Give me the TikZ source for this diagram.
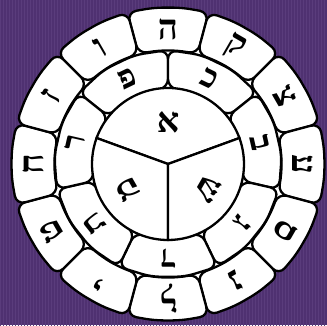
\documentclass[tikz,border=0pt]{standalone}
\usepackage{fontspec}
\newfontfamily\hebfont[Script=Hebrew]{Liberation Serif}
\usetikzlibrary{patterns}
\definecolor{bgpurple}{RGB}{79,49,113}
\definecolor{bgstripe}{RGB}{90,60,124}
\newcommand{\ringcell}[4]{%
  \draw[cellbox] (#1:#3) -- (#1:#4) -- ({#1+(#2-#1)/3}:#4) -- ({#1+2*(#2-#1)/3}:#4)
    -- (#2:#4) -- (#2:#3) -- ({#1+2*(#2-#1)/3}:#3) -- ({#1+(#2-#1)/3}:#3) -- cycle;}

\begin{document}
\begin{tikzpicture}[
  x=1pt,y=1pt,
  cellbox/.style={draw=black,fill=white,line width=2.3pt,rounded corners=9pt},
  corebox/.style={draw=black,fill=white,line width=2.3pt},
  letter/.style={font=\hebfont\bfseries\fontsize{35}{35}\selectfont,inner sep=0pt},
  midletter/.style={letter,font=\hebfont\bfseries\fontsize{32}{32}\selectfont}
]
  \useasboundingbox (-168,-161) rectangle (159,164);
  \fill[bgpurple] (-168,-161) rectangle (159,164);
  \fill[pattern=vertical lines,pattern color=bgstripe] (-168,-161) rectangle (159,164);
  \fill[white] (0,0) circle (124);

  \ringcell{75}{105}{114}{157}
  \ringcell{45}{75}{114}{157}
  \ringcell{15}{45}{114}{157}
  \ringcell{-15}{15}{114}{157}
  \ringcell{-45}{-15}{114}{157}
  \ringcell{-75}{-45}{114}{157}
  \ringcell{-105}{-75}{114}{157}
  \ringcell{-135}{-105}{114}{157}
  \ringcell{-165}{-135}{114}{157}
  \ringcell{165}{195}{114}{157}
  \ringcell{135}{165}{114}{157}
  \ringcell{105}{135}{114}{157}

  \ringcell{90}{141.43}{76}{114}
  \ringcell{38.57}{90}{76}{114}
  \ringcell{-12.86}{38.57}{76}{114}
  \ringcell{-64.29}{-12.86}{76}{114}
  \ringcell{-115.71}{-64.29}{76}{114}
  \ringcell{-167.14}{-115.71}{76}{114}
  \ringcell{141.43}{192.86}{76}{114}

  \draw[corebox] (0,0) -- (20:76) arc[start angle=20,end angle=160,radius=76] -- cycle;
  \draw[corebox] (0,0) -- (160:76) arc[start angle=160,end angle=270,radius=76] -- cycle;
  \draw[corebox] (0,0) -- (270:76) arc[start angle=270,end angle=380,radius=76] -- cycle;

  \node[letter] (he)     at (90:135)  {ה};
  \node[letter,rotate=-30]  (qof)    at (60:135)  {ק};
  \node[letter,rotate=-60]  (tsadi)  at (30:135)  {צ};
  \node[letter,rotate=-90]  (ayin)   at (0:135)   {ע};
  \node[letter,rotate=-120] (samekh) at (-30:135) {ס};
  \node[letter,rotate=-150] (nun)    at (-60:135) {נ};
  \node[letter,rotate=180]  (lamed)  at (-90:135) {ל};
  \node[letter,rotate=150]  (yod)    at (-120:135) {י};
  \node[letter,rotate=120]  (tet)    at (-150:135) {ט};
  \node[letter,rotate=90]   (het)    at (180:135) {ח};
  \node[letter,rotate=60]   (zayin)  at (150:135) {ז};
  \node[letter,rotate=30]   (vav)    at (120:135) {ו};

  \node[midletter,rotate=25.7]   (pe)    at (115.7:95)  {פ};
  \node[midletter,rotate=-25.7]  (kaf)   at (64.3:95)   {כ};
  \node[midletter,rotate=-77.1]  (bet)   at (12.9:95)   {ב};
  \node[midletter,rotate=-128.6] (gimel) at (-38.6:95)  {ג};
  \node[midletter,rotate=180]    (dalet) at (-90:95)    {ד};
  \node[midletter,rotate=128.6]  (tav)   at (-141.4:95) {ת};
  \node[midletter,rotate=77.1]   (resh)  at (167.1:95)  {ר};

  \node[letter] (alef) at (90:42) {א};
  \node[letter,rotate=120]  (mem)  at (-148:48) {מ};
  \node[letter,rotate=-120] (shin) at (-32:48)  {ש};
\end{tikzpicture}
\end{document}
